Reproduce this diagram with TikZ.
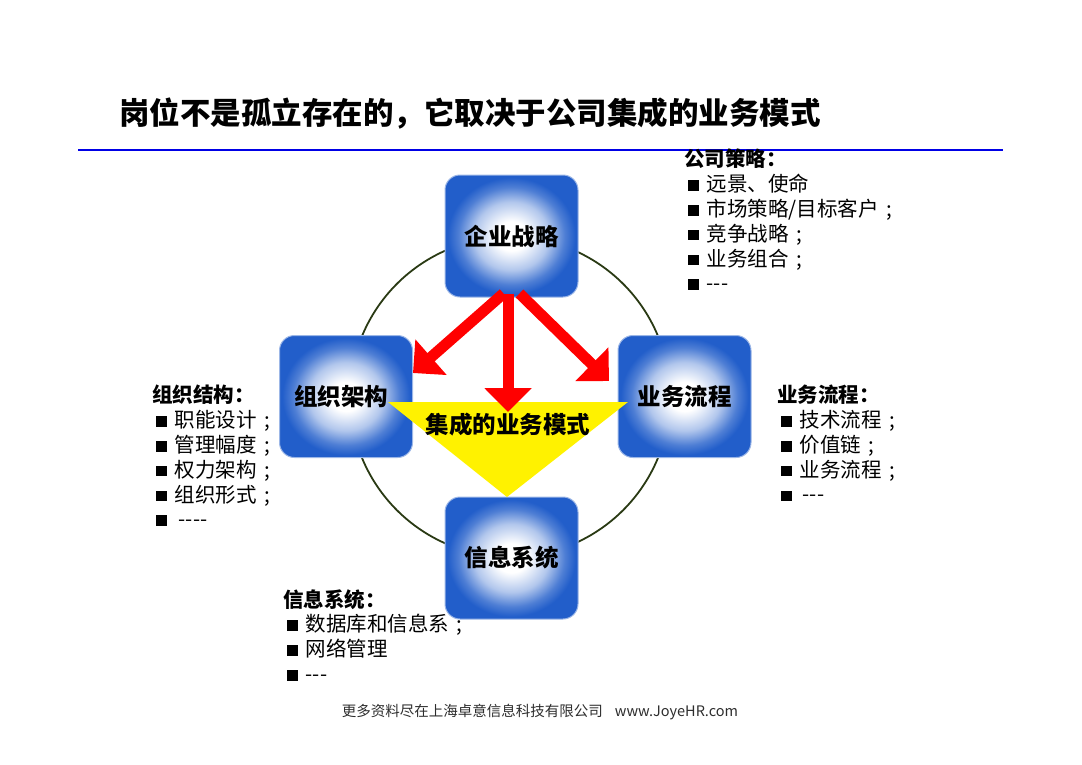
\documentclass[tikz,border=0pt]{standalone}
\usepackage{fontspec}
\setmainfont{Noto Sans CJK SC}
\usetikzlibrary{arrows.meta,calc,shapes}
\definecolor{boxblue}{RGB}{34,94,202}
\definecolor{circlegreen}{RGB}{42,58,20}
\definecolor{ruleblue}{RGB}{0,0,230}
\definecolor{footgray}{RGB}{45,45,45}
\pgfdeclareradialshading{boxshade}{\pgfpoint{0bp}{0bp}}{color(0bp)=(white); color(6bp)=(white); color(14bp)=(boxblue!35!white); color(20bp)=(boxblue!80!white); color(24bp)=(boxblue); color(50bp)=(boxblue)}
\tikzstyle{bluebox} = [rectangle, rounded corners=15pt, minimum width=133pt, minimum height=122pt, shading=boxshade, draw=boxblue!45!white, line width=1pt, font=\fontsize{23.5}{26}\selectfont\bfseries]
\tikzstyle{redarrow} = [red, line width=11pt, -{Triangle[length=24pt,width=46pt]}]
\tikzstyle{listtext} = [align=left, inner sep=0pt, anchor=north west, font=\fontsize{20.5}{24.8}\selectfont]
\newcommand{\sqb}{\rule[0.04em]{0.52em}{0.52em}}
\newcommand{\itm}[1]{\hspace*{4pt}\sqb\hspace{8pt}#1}
\newcommand{\semi}{\hspace{0.35em};}

\begin{document}
\begin{tikzpicture}[x=1pt,y=-1pt]
\useasboundingbox (0,0) rectangle (1082,764);
\node (title) at (470,114) {\fontsize{30.5}{34}\selectfont\bfseries 岗位不是孤立存在的，它取决于公司集成的业务模式};
\coordinate (ruleL) at (78,150);
\coordinate (ruleR) at (1003,150);
\draw[ruleblue, line width=2pt] (ruleL) -- (ruleR);

% ring behind the four boxes
\coordinate (centre) at (510,397);
\draw[circlegreen, line width=1.8pt] (centre) circle [radius=160pt];

\node[bluebox] (strategy) at (511.5,236) {企业战略};
\node[bluebox] (org) at (346,396.5) {\raisebox{3pt}{组织架构\hspace{10pt}}};
\node[bluebox] (process) at (684.5,396.5) {\raisebox{3pt}{业务流程}};
\node[bluebox] (info) at (511.5,558) {\raisebox{-4pt}{信息系统}};

\coordinate (triL) at (388,402);
\coordinate (triR) at (628,402);
\coordinate (triB) at (507,497);
\fill[yellow] (triL) -- (triR) -- (triB) -- cycle;

\coordinate (tipL) at (413,373);
\coordinate (tipD) at (508,412);
\coordinate (tipR) at (609,381);
\draw[redarrow] ([xshift=-8pt,yshift=4pt]strategy.south) -- (tipL);
\draw[redarrow] ([yshift=4pt]strategy.south -| tipD) -- (tipD);
\draw[redarrow] ([xshift=8pt,yshift=4pt]strategy.south) -- (tipR);
\node (model) at (508,425) {\fontsize{23.5}{26}\selectfont\bfseries 集成的业务模式};

\node[listtext] (strategyList) at (684,149) {\textbf{公司策略：}\\
\itm{远景、使命}\\
\itm{市场策略/目标客户\semi}\\
\itm{竞争战略\semi}\\
\itm{业务组合\semi}\\
\itm{{-}{-}{-}}};
\node[listtext] (orgList) at (152,385) {\textbf{组织结构：}\\
\itm{职能设计\semi}\\
\itm{管理幅度\semi}\\
\itm{权力架构\semi}\\
\itm{组织形式\semi}\\
\itm{\hspace{4pt}{-}{-}{-}{-}}};
\node[listtext] (processList) at (777,385) {\textbf{业务流程：}\\
\itm{技术流程\semi}\\
\itm{价值链\semi}\\
\itm{业务流程\semi}\\
\itm{\hspace{3pt}{-}{-}{-}}};
\node[listtext] (infoList) at (283,589) {\textbf{信息系统：}\\
\itm{数据库和信息系\semi}\\
\itm{网络管理}\\
\itm{{-}{-}{-}}};

\node[footgray] (footer) at (540,712) {\fontsize{14.5}{16}\selectfont 更多资料尽在上海卓意信息科技有限公司\hspace{12pt}www.JoyeHR.com};
\end{tikzpicture}
\end{document}
